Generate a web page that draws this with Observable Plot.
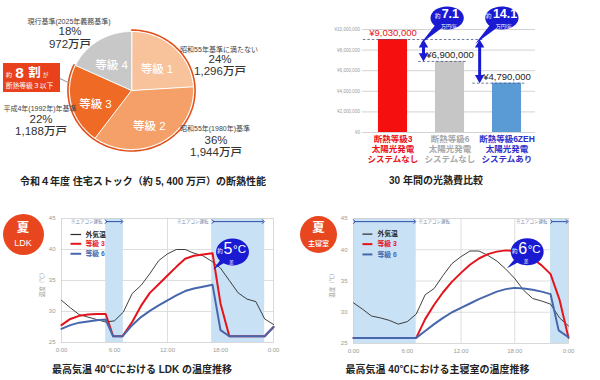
<!DOCTYPE html>
<html><head><meta charset="utf-8">
<script src="https://cdn.jsdelivr.net/npm/d3@7"></script>
<script src="https://cdn.jsdelivr.net/npm/@observablehq/plot@0.6"></script>
<style>
body{margin:0;background:#fff;font-family:"Liberation Sans","Noto Sans CJK JP",sans-serif;}
#root{position:relative;width:600px;height:380px;overflow:hidden;background:#fff;}
</style></head><body><div id="root"></div>
<script>
// ---------- data ----------
const pieGrades = ["等級 1","等級 2","等級 3","等級 4"];
const pieShares = [24,36,22,18];
const pieHomes = ["1,296万戸","1,944万戸","1,188万戸","972万戸"];
const pieStandards = ["昭和55年基準に満たない","昭和55年(1980年)基準","平成4年(1992年)年基準","現行基準(2025年義務基準)"];
const pieTitle = "令和４年度 住宅ストック（約 5, 400 万戸）の断熱性能";

const barLabels = [["断熱等級3","太陽光発電","システムなし"],["断熱等級6","太陽光発電","システムなし"],["断熱等級6ZEH","太陽光発電","システムあり"]];
const barCosts = [9030000, 6900000, 4790000];
const barTicks = [0,2000000,4000000,6000000,8000000,10000000];
const barSavings = ["7.1","14.1"];
const barTitle = "30 年間の光熱費比較";

const hourTicks = [0,6,12,18,24];
const tempTicks = [25,30,35,40,45];
const seriesNames = ["外気温","等級 3","等級 6"];
const bandLabel = "※エアコン運転";

const ldkOutHours = [0,1,2,3,4,5,6,7,8,9,10,11,12,13,14,15,16,17,18,19,20,21,22,23,24];
const ldkOutTemps = [31.8,30.6,29.5,29.1,28.7,28.3,28.5,29.9,32.9,34.2,36.1,38.2,39.3,40.0,40.0,39.4,39.0,38.1,37.0,35.0,33.0,32.0,31.6,28.8,27.9];
const ldkG3Hours = [0,1,2,3,4,5,5.85,6.9,8,9,10,11,12,13,14,15,16,17.1,18,19,23,24];
const ldkG3Temps = [27.8,28.8,29.3,29.5,29.6,29.6,26.0,26.0,28.3,30.9,33.0,34.4,35.8,37.2,38.5,39.0,39.2,39.4,31.3,26.0,26.0,27.5];
const ldkG6Hours = [0,1,2,3,4,5,5.85,6.9,8,9,10,11,12,13,14,15,16,17.1,18,19,23,24];
const ldkG6Temps = [27.2,27.8,28.2,28.4,28.6,28.7,26.0,26.0,27.8,29.1,30.1,31.0,31.8,32.6,33.3,33.7,34.0,34.3,27.0,26.0,26.0,27.5];
const ldkBands = [[5,7],[17,23]];
const ldkDiff = "5";
const ldkTitle = "最高気温 40℃における LDK の温度推移";

const bedOutHours = [0,1,2,3,4,5,6,7,8,9,10,11,12,13,14,15,16,17,18,19,20,21,22,23,24];
const bedOutTemps = [31.5,30.5,29.4,29.1,28.7,28.1,28.5,29.7,32.8,33.8,35.9,37.8,38.9,39.8,39.8,39.1,38.2,36.9,35.4,33.5,32.2,31.8,31.3,29.1,27.8];
const bedG3Hours = [0,7,8,9,10,11,12,13,14,15,16,17,18,19,20,21,22,23,24];
const bedG3Temps = [25.9,25.9,28.9,31.2,33.2,34.9,36.3,37.6,38.6,39.3,39.7,39.9,39.8,39.4,38.6,37.5,36.1,32.0,25.9];
const bedG6Hours = [0,7,8,9,10,11,12,13,14,15,16,17,18,19,20,21,22,22.9,24];
const bedG6Temps = [25.9,25.9,27.0,28.1,29.1,30.0,30.7,31.4,32.1,32.7,33.3,33.7,33.9,33.8,33.6,33.3,32.9,27.1,26.0];
const bedBands = [[0,7],[22,24]];
const bedDiff = "6";
const bedTitle = "最高気温 40℃における主寝室の温度推移";

// ---------- helpers ----------
const FONT = '"Liberation Sans","Noto Sans CJK JP",sans-serif';
const root = document.getElementById("root");
function mount(svg, left, top){
  const w = document.createElement("div");
  w.style.cssText = `position:absolute;left:${left}px;top:${top}px;width:300px;height:190px;`;
  w.appendChild(svg); root.appendChild(w);
}
function label(txt, x, y, css={}){
  const d = document.createElement("div");
  d.textContent = txt;
  Object.assign(d.style,{position:"absolute",left:x+"px",top:y+"px",transform:"translate(-50%,-50%)",whiteSpace:"nowrap",lineHeight:"1",color:"#333",fontFamily:FONT},css);
  root.appendChild(d); return d;
}
function ellipseSymbol(ax, ay){
  return {draw(ctx, size){
    const r = Math.sqrt(size/Math.PI), a=r*ax, b=r*ay, k=0.5523;
    ctx.moveTo(a,0);
    ctx.bezierCurveTo(a,b*k,a*k,b,0,b);
    ctx.bezierCurveTo(-a*k,b,-a,b*k,-a,0);
    ctx.bezierCurveTo(-a,-b*k,-a*k,-b,0,-b);
    ctx.bezierCurveTo(a*k,-b,a,-b*k,a,0);
    ctx.closePath();
  }};
}
const BUBBLE = "#1a1ad2";

// ---------- pie ----------
{
  const pieColors = ["#f8c29b","#f4a068","#ee6a25","#c8c8c8"];
  const cx=131, cy=90, rx=62, ry=59;
  const arcs = d3.pie().sort(null).value(d=>d)(pieShares);
  const toXY = (t,k=1)=>({x:k*Math.sin(t), y:k*Math.cos(t)});
  const wedges = arcs.map(a=>{
    const pts=[{x:0,y:0}], n=72;
    for(let j=0;j<=n;j++) pts.push(toXY(a.startAngle+(a.endAngle-a.startAngle)*j/n));
    return pts;
  });
  const endA = arcs[2].endAngle;
  const outline = d3.range(0,121).map(j=>toXY(endA*j/120,1.025));
  const inner = arcs.map((a,i)=>({...toXY((a.startAngle+a.endAngle)/2,0.6), text:pieGrades[i]}));
  const svg = Plot.plot({
    width:300,height:190,margin:0,
    style:{fontFamily:FONT,background:"transparent"},
    x:{domain:[-cx/rx,(300-cx)/rx],axis:null},
    y:{domain:[-(190-cy)/ry,cy/ry],axis:null},
    marks:[
      ...wedges.map((w,i)=>Plot.line(w,{x:"x",y:"y",curve:"linear-closed",fill:pieColors[i],stroke:"#fff",strokeWidth:1})),
      Plot.line(outline,{x:"x",y:"y",stroke:"#e0501a",strokeWidth:1.6}),
      Plot.text(inner,{x:"x",y:"y",text:"text",fill:"#fff",fontSize:11.5,fontWeight:500,dy:5})
    ]
  });
  mount(svg,0,0);
  // [x, standard y, share y, homes y]
  const pos = [[219,49,60,72.3],[215,128,140.5,153],[40,108,119.5,132.3],[69,21,32,44.5]];
  pos.forEach((p,i)=>{
    label(pieStandards[i],p[0],p[1],{fontSize:"7px",color:"#444"});
    label(pieShares[i]+"%",p[0]+1,p[2],{fontSize:"11.5px"});
    label(pieHomes[i],p[0]+1,p[3],{fontSize:"11.5px",fontWeight:"500"});
  });
  const box = document.createElement("div");
  box.style.cssText="position:absolute;left:3px;top:63px;width:57px;height:29px;background:#e8411c;";
  root.appendChild(box);
  const ln = document.createElement("div");
  ln.style.cssText="position:absolute;left:60px;top:78px;width:11px;height:1px;background:#999;transform:rotate(25deg);transform-origin:0 0;";
  root.appendChild(ln);
  label("約",9,74.5,{fontSize:"6px",color:"#fff"});
  label("8",19.5,72.5,{fontSize:"15.5px",color:"#fff",fontWeight:"700"});
  label("割",34.5,72.5,{fontSize:"12.5px",color:"#fff",fontWeight:"700"});
  label("が",45.5,75.5,{fontSize:"5.5px",color:"#fff"});
  label("断熱等級３以下",29.5,86,{fontSize:"6.8px",color:"#fff"});
  label(pieTitle,143,182,{fontSize:"10px",fontWeight:"700",color:"#222"});
}

// ---------- bars ----------
{
  const colors = ["#f50f0f","#c6c6c6","#5b9bd5"];
  const textColors = ["#e8101a","#a8a8a8","#2e2ec8"];
  const rows = barCosts.map((c,i)=>({i,cost:c,color:colors[i],tc:textColors[i],lab:barLabels[i].join("\n"),val:"¥"+d3.format(",")(c),vc:i===0?"#e8101a":"#222"}));
  const dashes = [{y:barCosts[0],x1:-0.52,x2:1.6},{y:barCosts[1],x1:0.45,x2:1.31},{y:barCosts[2],x1:1.4,x2:2.35}];
  const arrows = [{x:0.535,y1:barCosts[0],y2:barCosts[1]},{x:1.52,y1:barCosts[0],y2:barCosts[2]}];
  const bubbles = [{x:0.95,y:11120000,v:barSavings[0],kdx:-9.5,vdx:3.2},{x:1.91,y:11120000,v:barSavings[1],kdx:-13,vdx:3.2}];
  const svg = Plot.plot({
    width:300,height:190,marginLeft:62,marginRight:65,marginTop:29,marginBottom:58,
    style:{fontFamily:FONT,background:"transparent"},
    x:{domain:[-0.535,2.5],axis:null},
    y:{domain:[0,10000000],axis:null},
    marks:[
      Plot.gridY(barTicks,{stroke:"#c8c8c8",strokeOpacity:1,strokeWidth:0.8}),
      Plot.axisY(barTicks,{tickSize:0,tickPadding:2.5,fontSize:4.6,fill:"#9a9a9a",tickFormat:d=>"¥"+d3.format(",")(d),label:null}),
      Plot.rect(rows,{x1:d=>d.i-0.255,x2:d=>d.i+0.255,y1:0,y2:"cost",fill:"color"}),
      Plot.ruleY(dashes,{y:"y",x1:"x1",x2:"x2",stroke:"#4b5585",strokeWidth:0.8,strokeDasharray:"2.5,2"}),
      Plot.text(rows,{x:"i",y:"cost",text:"val",fill:"vc",dy:-6.5,fontSize:9.5}),
      Plot.text(rows,{x:"i",y:0,text:"lab",fill:"tc",lineAnchor:"top",dy:2.5,fontSize:8.5,fontWeight:700,lineHeight:1.18}),
      Plot.ruleX(arrows,{x:"x",y1:"y1",y2:"y2",stroke:BUBBLE,strokeWidth:3,insetTop:4,insetBottom:4}),
      Plot.dot(arrows,{x:"x",y:"y1",symbol:"triangle",r:3.5,fill:BUBBLE,stroke:"none",dy:5.4}),
      Plot.dot(arrows,{x:"x",y:"y2",symbol:"triangle",r:3.5,fill:BUBBLE,stroke:"none",rotate:180,dy:-5.4}),
      Plot.vector(bubbles,{x:"x",y:"y",length:37,rotate:226,r:5,shape:"spike",anchor:"start",fill:BUBBLE,stroke:"none"}),
      Plot.dot(bubbles,{x:"x",y:"y",r:11.5,symbol:ellipseSymbol(1.45,1),fill:BUBBLE,stroke:"none"}),
      ...bubbles.map(b=>Plot.text([b],{x:"x",y:"y",text:()=>"約",fill:"#fff",fontSize:5.5,dx:b.kdx,dy:-1.5})),
      ...bubbles.map(b=>Plot.text([b],{x:"x",y:"y",text:"v",fill:"#fff",fontSize:12.5,fontWeight:700,dx:b.vdx,dy:-3.5})),
      Plot.text(bubbles,{x:"x",y:"y",text:()=>"万円/年",fill:"#fff",fontSize:5,dx:2,dy:8})
    ]
  });
  mount(svg,300,0);
  label(barTitle,436,181,{fontSize:"10px",fontWeight:"700",color:"#222"});
}

// ---------- temperature charts ----------
function tempChart(c){
  const toRows=(H,T)=>H.map((h,i)=>({h,t:T[i]}));
  const legend = seriesNames.map((n,i)=>({name:n,y:c.legY[i],color:["#2b2b2b","#e3141c","#4767ad"][i],w:[1.2,2,2][i]}));
  const bubble = [{x:c.bx,y:c.by}];
  return Plot.plot({
    width:300,height:190,marginLeft:c.ml,marginRight:c.mr,marginTop:28,marginBottom:c.mb,
    style:{fontFamily:FONT,background:"transparent"},
    x:{domain:[0,24],label:null},
    y:{domain:[25,45],label:null},
    marks:[
      Plot.gridX([6,12,18],{stroke:"#d6d6d6",strokeOpacity:1,strokeWidth:0.8}),
      Plot.gridY([30,35,40],{stroke:"#d6d6d6",strokeOpacity:1,strokeWidth:0.8}),
      Plot.rect(c.bands,{x1:d=>d[0],x2:d=>d[1],y1:25,y2:45,fill:"#c8e1f4"}),
      Plot.frame({stroke:"#d0d0d0",strokeWidth:0.8}),
      Plot.axisX(hourTicks,{tickSize:0,tickPadding:5,fontSize:6,fill:"#9a9a9a",tickFormat:d=>`${d%24}:00`,label:null}),
      Plot.axisY(tempTicks,{tickSize:0,tickPadding:6,fontSize:6,fill:"#9a9a9a",label:null}),
      Plot.text(["温度（℃）"],{text:d=>d,frameAnchor:"left",dx:-c.yl,dy:3,rotate:-90,textAnchor:"middle",fontSize:5.5,fill:"#9a9a9a"}),
      Plot.link(c.arrows,{x1:"a",x2:"b",y1:44.5,y2:44.5,stroke:"#1e3c9e",strokeWidth:0.9,markerStart:"arrow",markerEnd:"arrow"}),
      ...c.arrows.map(a=>Plot.text([a],{x:"lx",y:44.5,text:()=>bandLabel,textAnchor:a.anchor,fontSize:4.5,fill:"#6f7fa6"})),
      Plot.line(toRows(c.outH,c.outT),{x:"h",y:"t",stroke:"#2b2b2b",strokeWidth:0.9}),
      Plot.line(toRows(c.g3H,c.g3T),{x:"h",y:"t",stroke:"#e3141c",strokeWidth:2}),
      Plot.line(toRows(c.g6H,c.g6T),{x:"h",y:"t",stroke:"#4767ad",strokeWidth:2}),
      Plot.link(legend,{x1:c.lx1,x2:c.lx2,y1:"y",y2:"y",stroke:"color",strokeWidth:"w"}),
      Plot.text(legend,{x:c.ltx,y:"y",text:"name",fill:"color",textAnchor:"start",fontSize:6.8,fontWeight:700}),
      Plot.vector(bubble,{x:"x",y:"y",length:26,rotate:c.tail,r:5,shape:"spike",anchor:"start",fill:BUBBLE,stroke:"none"}),
      Plot.dot(bubble,{x:"x",y:"y",r:13.5,symbol:ellipseSymbol(1.22,1),fill:BUBBLE,stroke:"none"}),
      Plot.text(bubble,{x:"x",y:"y",text:()=>"約",fill:"#fff",fontSize:5.5,dx:-12.5,dy:-1}),
      Plot.text(bubble,{x:"x",y:"y",text:()=>c.diff,fill:"#fff",fontSize:16,dx:-4.5,dy:-3}),
      Plot.text(bubble,{x:"x",y:"y",text:()=>"°C",fill:"#fff",fontSize:11.5,dx:7,dy:-3}),
      Plot.text(bubble,{x:"x",y:"y",text:()=>"差",fill:"#fff",fontSize:4.8,dx:-1,dy:10})
    ]
  });
}
mount(tempChart({ml:61,mr:27,mb:38,yl:19,outH:ldkOutHours,outT:ldkOutTemps,g3H:ldkG3Hours,g3T:ldkG3Temps,g6H:ldkG6Hours,g6T:ldkG6Temps,
  bands:ldkBands,arrows:[{a:5.05,b:6.85,lx:4.65,anchor:"end"},{a:17.15,b:22.85,lx:16.65,anchor:"end"}],
  legY:[42.42,40.92,39.31],lx1:1.02,lx2:2.23,ltx:2.72,bx:19.36,by:39.6,tail:228,diff:ldkDiff}),0,190);
mount(tempChart({ml:53,mr:32,mb:37,yl:21,outH:bedOutHours,outT:bedOutTemps,g3H:bedG3Hours,g3T:bedG3Temps,g6H:bedG6Hours,g6T:bedG6Temps,
  bands:bedBands,arrows:[{a:0.1,b:6.85,lx:7.25,anchor:"start"},{a:22.1,b:23.85,lx:21.65,anchor:"end"}],
  legY:[42.5,40.9,39.25],lx1:1.0,lx2:2.11,ltx:2.67,bx:19.39,by:39.67,tail:231,diff:bedDiff}),300,190);

function badge(cx,cy,r,sub,subSize){
  const d=document.createElement("div");
  d.style.cssText=`position:absolute;left:${cx-r}px;top:${cy-r}px;width:${2*r}px;height:${2*r}px;border-radius:50%;background:#e8461e;`;
  root.appendChild(d);
  label("夏",cx,cy-6,{fontSize:"12.5px",fontWeight:"700",color:"#fff"});
  label(sub,cx,cy+8.5,{fontSize:subSize,fontWeight:"500",color:"#fff"});
}
badge(23,234,20.5,"LDK","9px");
badge(318.5,234,18.5,"主寝室","7px");
label(ldkTitle,142,370,{fontSize:"10px",fontWeight:"700",color:"#222"});
label(bedTitle,437.5,370,{fontSize:"10px",fontWeight:"700",color:"#222"});
</script></body></html>
